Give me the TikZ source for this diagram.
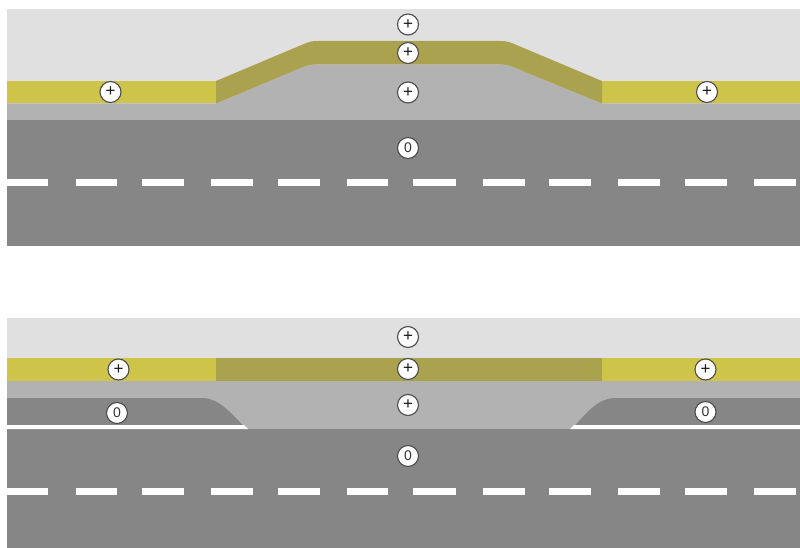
\documentclass[tikz,border=0pt]{standalone}
\usepackage{fontspec}
\setmainfont{Liberation Sans}
\definecolor{lightg}{HTML}{E0E0E0}
\definecolor{yel}{HTML}{CFC44A}
\definecolor{oli}{HTML}{ABA250}
\definecolor{midg}{HTML}{B2B2B2}
\definecolor{road}{HTML}{868686}
\newcommand{\plusmark}{\raisebox{-1.2pt}{+}}
\tikzset{
  mark sign/.style={circle,draw=black!70,line width=1.1pt,fill=white,minimum size=21pt,inner sep=0pt,font=\fontsize{14}{14}\selectfont,text=black!80},
  plus sign/.style={mark sign,font=\fontsize{17}{17}\selectfont,text=black!90},
  lane dash/.style={white,line width=7pt}
}
\begin{document}
\begin{tikzpicture}[x=1pt,y=-1pt]
\useasboundingbox (0,0) rectangle (800,548);
\fill[white] (0,0) rectangle (800,548);
% top panel
\fill[lightg] (7,9) rectangle (800,120);
\fill[midg] (7,103.5) -- (216,103.5) -- (303,67) .. controls (308,65) and (311,64.5) .. (316,64.5) -- (500,64.5) .. controls (505,64.5) and (508,65) .. (513,67) -- (602,103.5) -- (800,103.5) -- (800,120) -- (7,120) -- cycle;
\fill[yel] (7,81) rectangle (216,103.5);
\fill[yel] (602,81) rectangle (800,103.5);
\fill[oli] (216,81) -- (305,43.5) .. controls (310,41.5) and (313,41) .. (318,41) -- (500,41) .. controls (505,41) and (508,41.5) .. (513,43.5) -- (602,81) -- (602,103.5) -- (513,67) .. controls (508,65) and (505,64.5) .. (500,64.5) -- (316,64.5) .. controls (311,64.5) and (308,65) .. (303,67) -- (216,103.5) -- cycle;
\fill[road] (7,120.5) rectangle (800,246);
\foreach \a/\b in {7/48,76/117,142/184,211/253,278/319.5,347/388,413/456,482.5/524.5,549/591,618/660,685/727,754/796}
  \draw[lane dash] (\a,182.5) -- (\b,182.5);
% bottom panel
\fill[lightg] (7,318) rectangle (800,358);
\fill[yel] (7,358) rectangle (216,381);
\fill[oli] (216,358) rectangle (602,381);
\fill[yel] (602,358) rectangle (800,381);
\fill[midg] (7,381) rectangle (800,429.5);
\fill[road] (7,429) rectangle (800,548);
\fill[road] (7,398) -- (203,398) .. controls (216,399) and (224,405) .. (243,425.5) -- (7,425.5) -- cycle;
\fill[road] (800,398) -- (614,398) .. controls (601,399) and (593,405) .. (575,425.5) -- (800,425.5) -- cycle;
\fill[white] (7,425) -- (244,425) -- (248,429) -- (7,429) -- cycle;
\fill[white] (800,425) -- (574,425) -- (570,429) -- (800,429) -- cycle;
\foreach \a/\b in {7/48,76/117,142/184,211/253,278/319.5,347/388,413/456,482.5/524.5,549/591,618/660,685/727,754/796}
  \draw[lane dash] (\a,491.5) -- (\b,491.5);
% signs
\node[plus sign] (t1) at (408,24.5) {\plusmark};
\node[plus sign] (t2) at (408,53) {\plusmark};
\node[plus sign] (t3) at (408,92.5) {\plusmark};
\node[mark sign] (t4) at (408,148) {0};
\node[plus sign] (t5) at (110.5,92) {\plusmark};
\node[plus sign] (t6) at (707,92) {\plusmark};
\node[plus sign] (b1) at (408,337) {\plusmark};
\node[plus sign] (b2) at (408,369) {\plusmark};
\node[plus sign] (b3) at (408,405) {\plusmark};
\node[mark sign] (b4) at (408,456) {0};
\node[plus sign] (b5) at (118.5,369.5) {\plusmark};
\node[plus sign] (b6) at (705.5,369.5) {\plusmark};
\node[mark sign] (b7) at (117,413) {0};
\node[mark sign] (b8) at (705.5,412) {0};
\end{tikzpicture}
\end{document}
